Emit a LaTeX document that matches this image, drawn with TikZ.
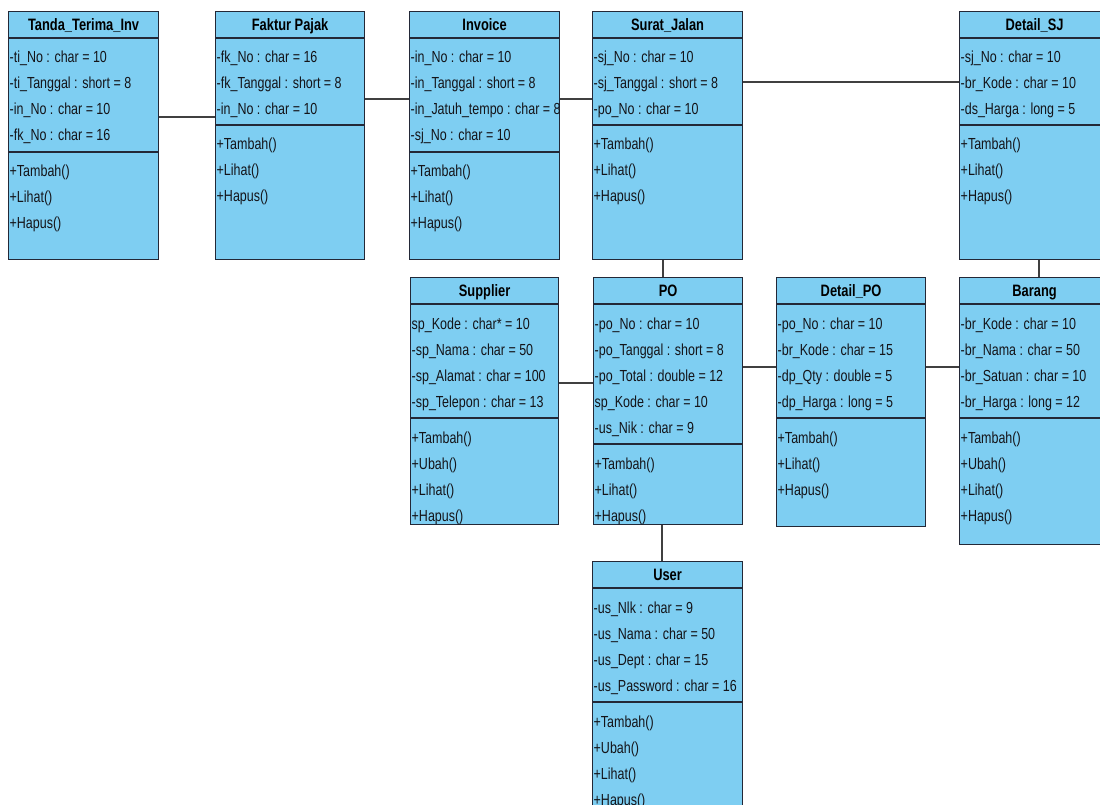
\documentclass[tikz,border=0pt]{standalone}
\usepackage{fontspec}
\usetikzlibrary{positioning}
\newfontfamily\umlfont[FakeStretch=0.78]{Liberation Sans}
\definecolor{classfill}{RGB}{126,206,242}
\definecolor{classline}{RGB}{35,40,55}
\definecolor{rowink}{RGB}{20,20,25}

\tikzset{
  classbody/.style={draw=classline, line width=1.2pt, fill=classfill, inner sep=0pt, anchor=north west},
  divider/.style={draw=classline, line width=1.2pt},
  titletext/.style={font={\umlfont\bfseries\fontsize{16.5}{18}\selectfont}, anchor=base, inner sep=0pt, text=black},
  rowtext/.style={font={\umlfont\fontsize{16}{18}\selectfont}, anchor=base west, inner sep=0pt, text=rowink},
  link/.style={draw=black!75, line width=1.3pt},
}

% #1 name, #2 x, #3 top, #4 width, #5 height, #6 split, #7 title, #8 attributes, #9 operations
\newcommand{\umlclass}[9]{%
  \node[classbody, minimum width=#4pt, minimum height=#5pt] (#1) at (#2,#3) {};
  \draw[divider] ([yshift=-27pt]#1.north west) -- ([yshift=-27pt]#1.north east);
  \draw[divider] ([yshift=-#6pt]#1.north west) -- ([yshift=-#6pt]#1.north east);
  \node[titletext] at ([yshift=-19.5pt]#1.north) {#7};
  \foreach \t [count=\i] in {#8}
    \node[rowtext] at ([xshift=1.5pt, yshift={-(52+(\i-1)*26)*1pt}]#1.north west) {\t};
  \foreach \t [count=\i] in {#9}
    \node[rowtext] at ([xshift=1.5pt, yshift={-(#6+25+(\i-1)*26)*1pt}]#1.north west) {\t};
}

\begin{document}
\begin{tikzpicture}[x=1pt, y=-1pt]
   \useasboundingbox[fill=white] (0,0) rectangle (1100,805);

   % baris atas
   \umlclass{tanda}{8}{11}{150}{248}{141}{Tanda\_Terima\_Inv}
     {-ti\_No : char = 10, -ti\_Tanggal : short = 8, -in\_No : char = 10, -fk\_No : char = 16}
     {+Tambah(), +Lihat(), +Hapus()}
   \umlclass{faktur}{215}{11}{149}{248}{114}{Faktur Pajak}
     {-fk\_No : char = 16, -fk\_Tanggal : short = 8, -in\_No : char = 10}
     {+Tambah(), +Lihat(), +Hapus()}
   \umlclass{invoice}{409}{11}{150}{248}{141}{Invoice}
     {-in\_No : char = 10, -in\_Tanggal : short = 8, -in\_Jatuh\_tempo : char = 8, -sj\_No : char = 10}
     {+Tambah(), +Lihat(), +Hapus()}
   \umlclass{surat}{592}{11}{150}{248}{114}{Surat\_Jalan}
     {-sj\_No : char = 10, -sj\_Tanggal : short = 8, -po\_No : char = 10}
     {+Tambah(), +Lihat(), +Hapus()}
   \umlclass{detailsj}{959}{11}{150}{248}{114}{Detail\_SJ}
     {-sj\_No : char = 10, -br\_Kode : char = 10, -ds\_Harga : long = 5}
     {+Tambah(), +Lihat(), +Hapus()}

   % baris tengah
   \umlclass{supplier}{410}{277}{148}{247}{141}{Supplier}
     {sp\_Kode : char* = 10, -sp\_Nama : char = 50, -sp\_Alamat : char = 100, -sp\_Telepon : char = 13}
     {+Tambah(), +Ubah(), +Lihat(), +Hapus()}
   \umlclass{po}{593}{277}{149}{247}{167}{PO}
     {-po\_No : char = 10, -po\_Tanggal : short = 8, -po\_Total : double = 12, sp\_Kode : char = 10, -us\_Nik : char = 9}
     {+Tambah(), +Lihat(), +Hapus()}
   \umlclass{detailpo}{776}{277}{149}{249}{141}{Detail\_PO}
     {-po\_No : char = 10, -br\_Kode : char = 15, -dp\_Qty : double = 5, -dp\_Harga : long = 5}
     {+Tambah(), +Lihat(), +Hapus()}
   \umlclass{barang}{959}{277}{150}{267}{141}{Barang}
     {-br\_Kode : char = 10, -br\_Nama : char = 50, -br\_Satuan : char = 10, -br\_Harga : long = 12}
     {+Tambah(), +Ubah(), +Lihat(), +Hapus()}

   % baris bawah
   \umlclass{user}{592}{561}{150}{256}{141}{User}
     {-us\_Nlk : char = 9, -us\_Nama : char = 50, -us\_Dept : char = 15, -us\_Password : char = 16}
     {+Tambah(), +Ubah(), +Lihat(), +Hapus()}

   % relasi
   \draw[link] (tanda.east |- 0,117) -- (faktur.west |- 0,117);
   \draw[link] (faktur.east |- 0,99) -- (invoice.west |- 0,99);
   \draw[link] (invoice.east |- 0,99) -- (surat.west |- 0,99);
   \draw[link] (surat.east |- 0,82) -- (detailsj.west |- 0,82);
   \draw[link] (surat.south -| 663,0) -- (po.north -| 663,0);
   \draw[link] (detailsj.south -| 1039,0) -- (barang.north -| 1039,0);
   \draw[link] (supplier.east |- 0,383) -- (po.west |- 0,383);
   \draw[link] (po.east |- 0,367) -- (detailpo.west |- 0,367);
   \draw[link] (detailpo.east |- 0,367) -- (barang.west |- 0,367);
   \draw[link] (po.south -| 662,0) -- (user.north -| 662,0);
\end{tikzpicture}
\end{document}
